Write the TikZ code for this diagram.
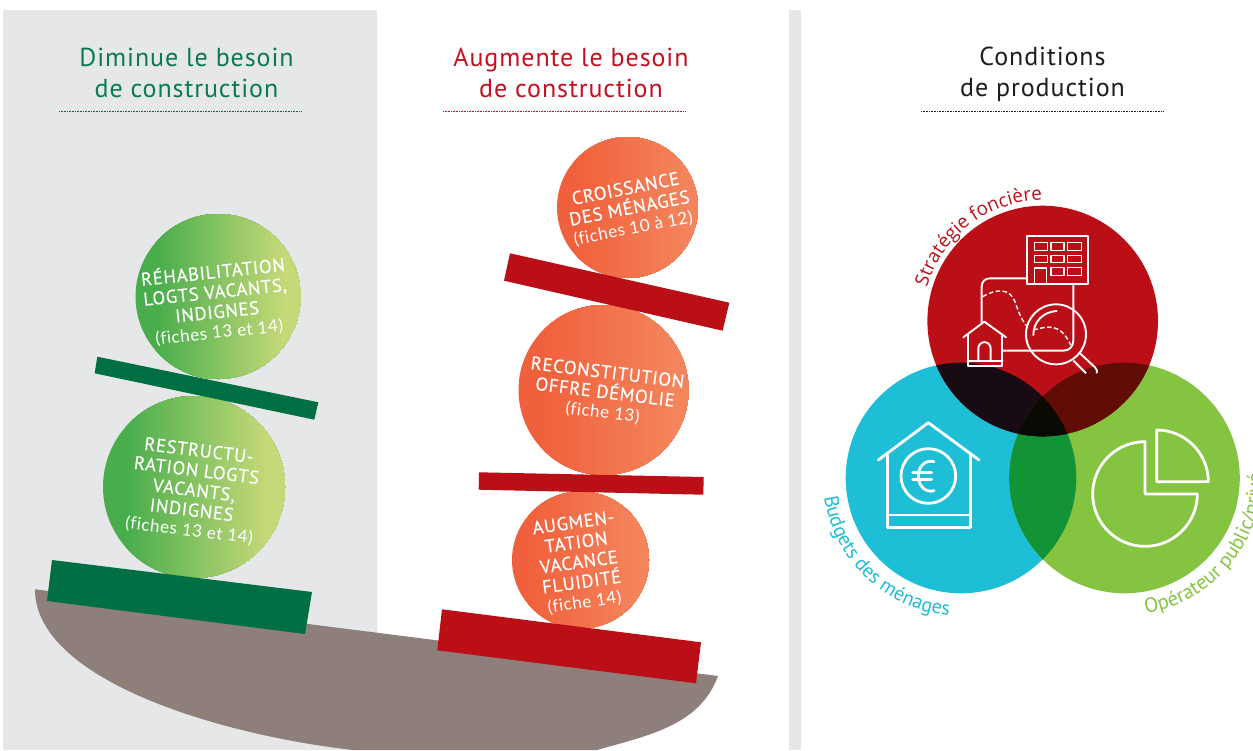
\documentclass[tikz,border=0pt]{standalone}
\usepackage{fontspec}
\setmainfont{PT Sans}
\newfontfamily\titlef[LetterSpace=3.5]{PT Sans}
\newfontfamily\capsf[LetterSpace=4,FakeBold=0.35]{PT Sans}
\newfontfamily\lightf[LetterSpace=3.5,Ligatures=NoCommon]{Lato}
\newfontfamily\arcf{Open Sans}
\usetikzlibrary{decorations.text}
\definecolor{panel}{HTML}{E5E7E9}
\definecolor{dgreen}{HTML}{006F44}
\definecolor{tgreen}{HTML}{0B7A52}
\definecolor{bred}{HTML}{BB0F17}
\definecolor{tred}{HTML}{C2121F}
\definecolor{bowl}{HTML}{8E7F7A}
\definecolor{gl}{HTML}{49AD4C}
\definecolor{gr}{HTML}{C6D978}
\definecolor{ol}{HTML}{F1603C}
\definecolor{or}{HTML}{F3845B}
\definecolor{vblue}{HTML}{1DBED6}
\definecolor{vgreen}{HTML}{84C441}
\definecolor{vbg}{HTML}{119336}
\definecolor{vrb}{HTML}{170B14}
\definecolor{vrg}{HTML}{620C06}
\definecolor{vall}{HTML}{0A0A05}
\definecolor{ttext}{HTML}{1D1D1B}
\tikzset{
  balltext/.style={text=white,align=center,font=\capsf\fontsize{18.5}{20}\selectfont,inner sep=0pt},
  title/.style={align=center,font=\titlef\fontsize{26}{31}\selectfont,inner sep=0pt},
  rule/.style={line width=1pt,dash pattern=on 0.8pt off 0.8pt},
  icon/.style={draw=white,line width=1.9pt,line join=round,line cap=round},
  arctext/.style={decorate,decoration={text along path,text align=center,text format delimiters={|}{|}}},
}
\newcommand{\fic}[1]{{\lightf\fontsize{17}{20}\selectfont #1}}
% horizontal gradient ball painted as overlapping strips
\newcommand{\gradball}[5]{%
  \begin{scope}
    \clip (#1,#2) circle (#3);
    \fill[#4] (#1-#3-1,#2-#3-1) rectangle (#1+#3+1,#2+#3+1);
    \foreach \k in {0,2,...,100}{
      \pgfmathsetmacro{\xs}{#1-#3+2*#3*(0.12+0.78*\k/100)}
      \fill[#5!\k!#4] (\xs,#2-#3-1) rectangle (#1+#3+1,#2+#3+1);
    }
  \end{scope}}
\begin{document}
\begin{tikzpicture}[x=1pt,y=-1pt]
\useasboundingbox (0,0) rectangle (1253,750);
\clip (0,0) rectangle (1253,750);
\fill[white] (0,0) rectangle (1253,750);
% panels
\fill[panel] (3,10) rectangle (377,750);
\fill[panel] (789,10) rectangle (801,750);
% titles
\node[title,text=tgreen] (t1) at (186.5,73) {Diminue le besoin\\de construction};
\node[title,text=tred] (t2) at (571,72.5) {Augmente le besoin\\de construction};
\node[title,text=ttext] (t3) at (1042.5,74.5) {Conditions\\de production};
\draw[rule,dgreen] (59,111) -- (301,111);
\draw[rule,tred] (443,111) -- (685,111);
\draw[rule,ttext] (921,111) -- (1163,111);
% bowl
\fill[bowl] (35,589.3) -- (718,676) .. controls (700,725) and (650,735) .. (597,750) -- (353,750)
  .. controls (220,735) and (35,680) .. (35,589.3) -- cycle;
% balls
\gradball{218}{296.5}{82.5}{gl}{gr}
\gradball{194}{487}{91}{gl}{gr}
\gradball{627.5}{207.5}{70.5}{ol}{or}
\gradball{603.5}{390}{85}{ol}{or}
\gradball{580.5}{560}{68.5}{ol}{or}
% bars
\fill[dgreen] (97.3,356.7) -- (318.3,402.3) -- (314.3,419.7) -- (94.7,373.3) -- cycle;
\fill[dgreen] (52,560) -- (312,592) -- (305,634) -- (47,601) -- cycle;
\fill[bred] (510,253.3) -- (729.3,302.7) -- (722.7,330.7) -- (504,280.7) -- cycle;
\fill[bred] (479,472.3) -- (703.7,477) -- (703.3,494.7) -- (478.7,489.7) -- cycle;
\fill[bred] (442,609.3) -- (701,642.3) -- (696,683.3) -- (437.3,650.3) -- cycle;
% ball texts
\node[balltext,rotate=6] (b1) at (216,301.5) {RÉHABILITATION\\LOGTS VACANTS,\\INDIGNES\\\fic{(fiches 13 et 14)}};
\node[balltext,rotate=-7] (b2) at (194,491) {RESTRUCTU-\\RATION LOGTS\\VACANTS,\\INDIGNES\\\fic{(fiches 13 et 14)}};
\node[balltext,rotate=11] (b3) at (629.5,209) {CROISSANCE\\DES MÉNAGES\\\fic{(fiches 10 à 12)}};
\node[balltext,rotate=-7] (b4) at (605,393) {RECONSTITUTION\\OFFRE DÉMOLIE\\\fic{(fiche 13)}};
\node[balltext,rotate=8] (b5) at (579,563) {AUGMEN-\\TATION\\VACANCE\\FLUIDITÉ\\\fic{(fiche 14)}};
% venn
\fill[vblue] (961,478) circle (115.3);
\fill[vgreen] (1124.5,478) circle (115.3);
\fill[bred] (1042.7,321) circle (115.3);
\begin{scope}
  \clip (961,478) circle (115.3);
  \fill[vbg] (1124.5,478) circle (115.3);
  \fill[vrb] (1042.7,321) circle (115.3);
  \clip (1124.5,478) circle (115.3);
  \fill[vall] (1042.7,321) circle (115.3);
\end{scope}
\begin{scope}
  \clip (1124.5,478) circle (115.3);
  \clip (1042.7,321) circle (115.3);
  \fill[vrg] (1124.5,478) circle (115.3);
  \clip (961,478) circle (115.3);
  \fill[vall] (961,478) circle (115.3);
\end{scope}
% red circle icon, zoom coordinates
\begin{scope}[shift={(900,170)},x=1/3*1pt,y=-1/3*1pt]
  \draw[icon] (380,198) rectangle (565,342);
  \foreach \xa/\xb in {403/442,453/492,503/545}{
    \draw[icon,line width=1.6pt] (\xa,218) rectangle (\xb,242);
    \draw[icon,line width=1.6pt] (\xa,257) rectangle (\xb,278);
  }
  \foreach \xa/\xb in {453/492,503/545}{\draw[icon,line width=1.6pt] (\xa,292) rectangle (\xb,316);}
  \draw[icon,line width=1.6pt] (403,342) -- (403,294) -- (440,294) -- (440,342);
  \draw[icon] (380,325) -- (270,325) .. controls (255,325) and (245,335) .. (245,350) -- (245,462);
  \draw[icon] (520,342) -- (520,510) .. controls (520,530) and (508,542) .. (490,542) -- (310,542);
  \draw[icon,line width=1.4pt,line cap=butt,dash pattern=on 4.5pt off 2.5pt] (248,380) .. controls (290,355) and (330,355) .. (345,395) .. controls (355,425) and (365,450) .. (380,468);
  \draw[icon,line width=1.4pt,line cap=butt,dash pattern=on 4.5pt off 2.5pt] (400,480) .. controls (440,470) and (480,455) .. (512,525);
  \draw[icon] (468,493) circle (90);
  \draw[icon] (470,423) .. controls (430,425) and (400,455) .. (400,495);
  \draw[icon,line cap=butt] (540,550) -- (585,592) .. controls (592,598) and (592,604) .. (590,610);
  \draw[icon,line cap=butt] (520,572) -- (558,610);
  \draw[icon] (190,502) -- (253,455) -- (318,502);
  \draw[icon] (203,492) -- (203,587) -- (307,587) -- (307,492);
  \draw[icon] (203,573) -- (307,573);
  \draw[icon] (235,572) -- (235,535) arc[start angle=180,end angle=360,radius=18.5] -- (272,572);
\end{scope}
% blue and green icons
\begin{scope}[shift={(810,400)},x=1/3*1pt,y=-1/3*1pt]
  \draw[icon,line width=2.8pt] (205,180) -- (355,68) -- (507,180);
  \draw[icon,line width=2.8pt] (232,165) -- (232,382) -- (482,382) -- (482,165);
  \draw[icon,line width=2.8pt] (232,345) -- (482,345);
  \draw[icon,line width=2.8pt] (355,228) circle (82);
  \draw[icon,line width=2.8pt] (372,185) .. controls (345,178) and (325,200) .. (325,228) .. controls (325,255) and (345,280) .. (372,272);
  \draw[icon,line width=2.8pt] (308,218) -- (365,218);
  \draw[icon,line width=2.8pt] (308,238) -- (365,238);
  \draw[icon,line width=2.8pt] (1005,125) arc[start angle=-90,end angle=-360,radius=157] -- (1005,282) -- cycle;
  \draw[icon,line width=2.8pt] (1040,90) arc[start angle=-90,end angle=0,radius=155] -- (1040,245) -- cycle;
\end{scope}
% arc labels
\path[arctext,decoration={text={|\arcf\fontsize{18.8}{19}\selectfont\color{bred}|Stratégie foncière}}]
  (1042.7,321) ++(-164:120.5) arc[start angle=-164,end angle=-90,radius=120.5];
\path[arctext,decoration={text={|\fontsize{20}{20}\selectfont\color{vblue}|Budgets des ménages}}]
  (961,478) ++(-185:138) arc[start angle=-185,end angle=-268,radius=138];
\path[arctext,decoration={text align=left,text={|\fontsize{20.5}{20}\selectfont\color{vgreen}|Opérateur public/privé}}]
  (1124.5,478) ++(81:137) arc[start angle=81,end angle=-30,radius=137];
\end{tikzpicture}
\end{document}
